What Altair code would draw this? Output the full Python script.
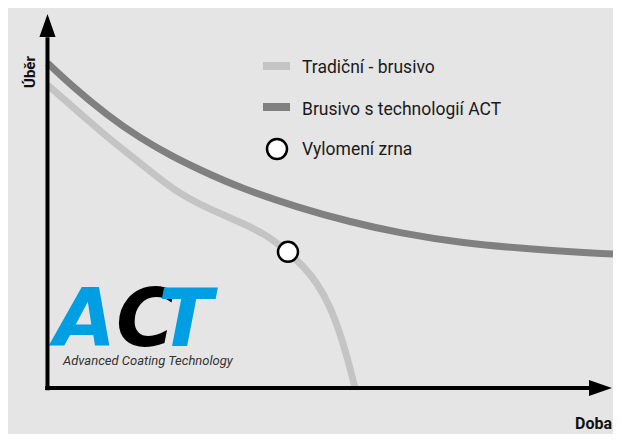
import altair as alt
import pandas as pd

# ---- data (abstract units: 0..100 on each axis) ----
time_trad = [0, 4.46, 10.41, 16.19, 21.96, 27.91, 33.68, 38.41, 42.08, 45.06, 47.16, 49.43, 51.18, 52.58, 53.81]
removal_trad = [81.0, 75.1, 67.1, 60.2, 52.9, 48.1, 44.4, 40.9, 36.4, 32.1, 28.1, 21.9, 14.7, 7.5, 0]
time_act = [0, 4.46, 10.41, 16.19, 21.96, 26.68, 33.68, 44.18, 52.93, 61.68, 72.18, 86.2, 98.95]
removal_act = [86.9, 80.5, 73.0, 66.8, 61.8, 58.3, 53.5, 48.1, 44.4, 41.4, 38.8, 36.9, 35.8]
break_time = [42.08]
break_removal = [36.4]

legend_labels = ["Tradiční - brusivo", "Brusivo s technologií ACT", "Vylomení zrna"]
x_title = "Doba"
y_title = "Úběr"
logo_letters = ["A", "C", "T"]
logo_caption = "Advanced Coating Technology"

axis_x_end = [94.9]
axis_y_end = [93.8]

W, H = 605, 426
xs = alt.Scale(domain=[-6.91, 98.95], nice=False, zero=False)
ys = alt.Scale(domain=[-12.3, 101.6], nice=False, zero=False)

LIGHT = "#c4c4c4"
DARK = "#808080"
BLUE = "#009fe3"
FONT = "Roboto"


def X(f):
    return alt.X(f, type="quantitative", scale=xs, axis=None)


def Y(f):
    return alt.Y(f, type="quantitative", scale=ys, axis=None)


df_trad = pd.DataFrame({"t": time_trad, "r": removal_trad})
df_act = pd.DataFrame({"t": time_act, "r": removal_act})
df_break = pd.DataFrame({"t": break_time, "r": break_removal})

line_trad = alt.Chart(df_trad).mark_line(
    color=LIGHT, strokeWidth=7, interpolate="basis", strokeCap="butt"
).encode(x=X("t"), y=Y("r"), order="t:Q")

line_act = alt.Chart(df_act).mark_line(
    color=DARK, strokeWidth=7, interpolate="basis", strokeCap="butt"
).encode(x=X("t"), y=Y("r"), order="t:Q")

pt_break = alt.Chart(df_break).mark_point(
    shape="circle", filled=True, fill="white", stroke="black",
    strokeWidth=2.5, size=400, opacity=1
).encode(x=X("t"), y=Y("r"))

# axes with arrows
df_yaxis = pd.DataFrame({"x": [0], "y": [-0.6], "y2": axis_y_end})
df_xaxis = pd.DataFrame({"x": [-0.4], "x2": axis_x_end, "y": [0]})
yaxis = alt.Chart(df_yaxis).mark_rule(color="black", strokeWidth=4).encode(
    x=X("x"), y=Y("y"), y2="y2")
xaxis = alt.Chart(df_xaxis).mark_rule(color="black", strokeWidth=4).encode(
    x=X("x"), x2="x2", y=Y("y"))
y_arrow = alt.Chart(pd.DataFrame({"x": [0], "y": [96.9]})).mark_point(
    shape="M0,-1L0.7,1L-0.7,1Z", filled=True, color="black", size=529, opacity=1
).encode(x=X("x"), y=Y("y"))
x_arrow = alt.Chart(pd.DataFrame({"x": [96.76], "y": [0]})).mark_point(
    shape="M1,0L-1,-0.7L-1,0.7Z", filled=True, color="black", size=529, opacity=1
).encode(x=X("x"), y=Y("y"))

one = pd.DataFrame({"k": [0]})

y_lab = alt.Chart(one).mark_text(
    text=y_title, font=FONT, fontWeight="bold", fontSize=15, angle=270,
    align="center", baseline="middle", color="#111"
).encode(x=alt.value(22), y=alt.value(64))
x_lab = alt.Chart(one).mark_text(
    text=x_title, font=FONT, fontWeight="bold", fontSize=16,
    align="right", baseline="alphabetic", color="#111"
).encode(x=alt.value(604), y=alt.value(421))

# legend
leg_light = alt.Chart(one).mark_rule(color=LIGHT, strokeWidth=8).encode(
    x=alt.value(255), x2=alt.value(282), y=alt.value(58))
leg_dark = alt.Chart(one).mark_rule(color=DARK, strokeWidth=8).encode(
    x=alt.value(255), x2=alt.value(282), y=alt.value(99))
leg_circle = alt.Chart(one).mark_point(
    shape="circle", filled=True, fill="white", stroke="black",
    strokeWidth=2.5, size=400, opacity=1
).encode(x=alt.value(269), y=alt.value(141))
leg_texts = []
for lbl, yy in zip(legend_labels, [65, 107, 147]):
    leg_texts.append(
        alt.Chart(one).mark_text(
            text=lbl, font=FONT, fontSize=17.5, align="left",
            baseline="alphabetic", color="#1a1a1a"
        ).encode(x=alt.value(294), y=alt.value(yy))
    )

# logo
logo_layers = []
for letter, xx, col in zip(logo_letters, [46, 108, 150], [BLUE, "black", BLUE]):
    logo_layers.append(
        alt.Chart(one).mark_text(
            text=letter, font="DejaVu Sans", fontWeight="bold", fontStyle="italic",
            fontSize=80, align="left", baseline="alphabetic", color=col
        ).encode(x=alt.value(xx), y=alt.value(338))
    )
logo_cap = alt.Chart(one).mark_text(
    text=logo_caption, font=FONT, fontStyle="italic", fontSize=13,
    align="left", baseline="alphabetic", color="#333"
).encode(x=alt.value(55), y=alt.value(357))

chart = alt.layer(
    *logo_layers, logo_cap,
    line_trad, line_act, yaxis, xaxis, y_arrow, x_arrow, pt_break,
    y_lab, x_lab, leg_light, leg_dark, leg_circle, *leg_texts
).properties(
    width=W, height=H, padding=0,
    autosize=alt.AutoSizeParams(type="none"),
    background="#e5e5e5"
).configure_view(strokeWidth=0)

chart.save("out.html", embed_options={"renderer": "svg", "actions": False})
